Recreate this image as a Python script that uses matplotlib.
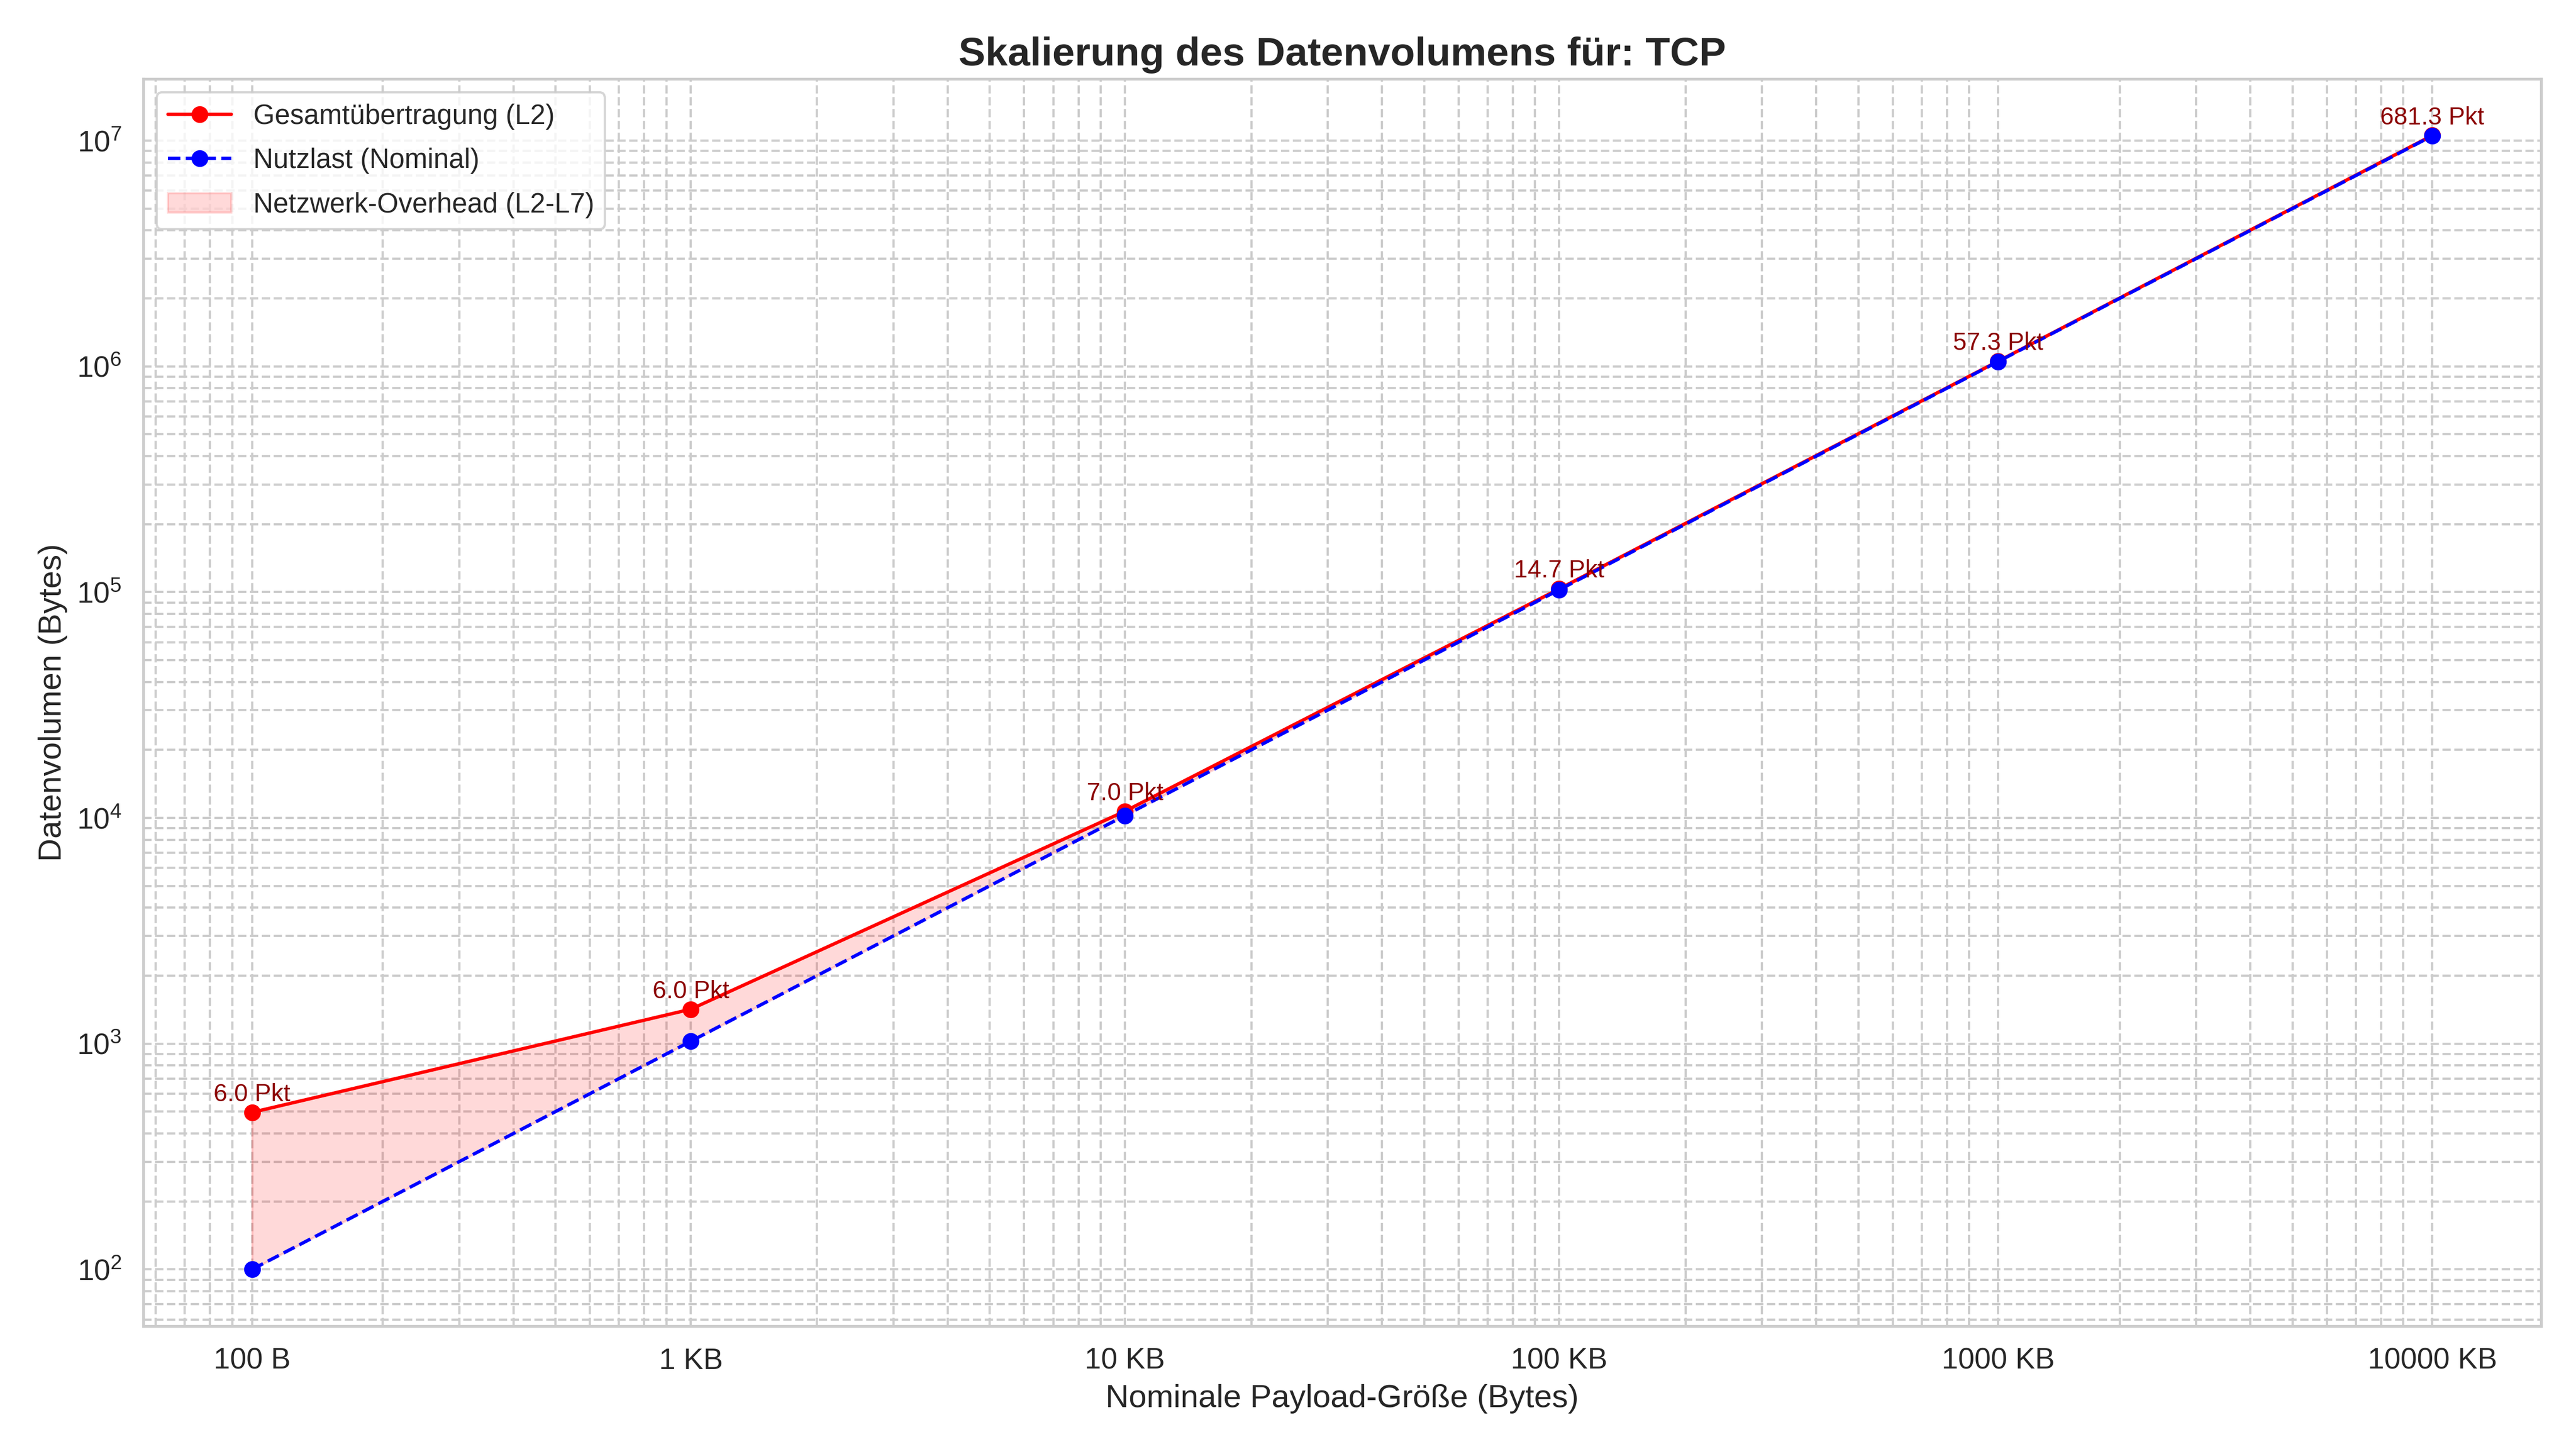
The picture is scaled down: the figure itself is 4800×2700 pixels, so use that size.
import matplotlib
matplotlib.use("Agg")
import matplotlib.pyplot as plt
import seaborn as sns

# payload sizes in bytes and matching tick labels
payload_bytes = [100, 1024, 10240, 102400, 1048576, 10485760]
tick_labels = ["100 B", "1 KB", "10 KB", "100 KB", "1000 KB", "10000 KB"]

# total bytes on the wire (L2) and average packet count per transfer
total_bytes = [496, 1420, 10702, 103370, 1052358, 10530726]
packet_counts = [6.0, 6.0, 7.0, 14.7, 57.3, 681.3]

sns.set_theme(style="whitegrid", font_scale=1.2)
plt.rcParams['font.family'] = ['Liberation Sans', 'DejaVu Sans']

fig, ax = plt.subplots(figsize=(16, 9))

ax.plot(payload_bytes, total_bytes, 'o-', color='red', linewidth=1.5, markersize=6.5,
        label='Gesamtübertragung (L2)')
ax.plot(payload_bytes, payload_bytes, 'o--', color='blue', linewidth=1.5, markersize=6.5,
        label='Nutzlast (Nominal)')
ax.fill_between(payload_bytes, payload_bytes, total_bytes, color='red', alpha=0.15,
                label='Netzwerk-Overhead (L2-L7)')

for x, y, n in zip(payload_bytes, total_bytes, packet_counts):
    ax.annotate(f'{n:.1f} Pkt', (x, y), textcoords='offset points', xytext=(0, 5),
                ha='center', fontsize=11, color='darkred')

ax.set_xscale('log')
ax.set_yscale('log')
ax.set_xticks(payload_bytes)
ax.set_xticklabels(tick_labels)
ax.grid(True, which='both', linestyle='--', linewidth=1)

ax.set_title('Skalierung des Datenvolumens für: TCP', fontsize=18, fontweight='bold')
ax.set_xlabel('Nominale Payload-Größe (Bytes)')
ax.set_ylabel('Datenvolumen (Bytes)')
ax.legend(loc='upper left', fontsize=12.3, labelspacing=0.65, handlelength=2.3)

plt.tight_layout()
plt.savefig('out.png', dpi=300)
